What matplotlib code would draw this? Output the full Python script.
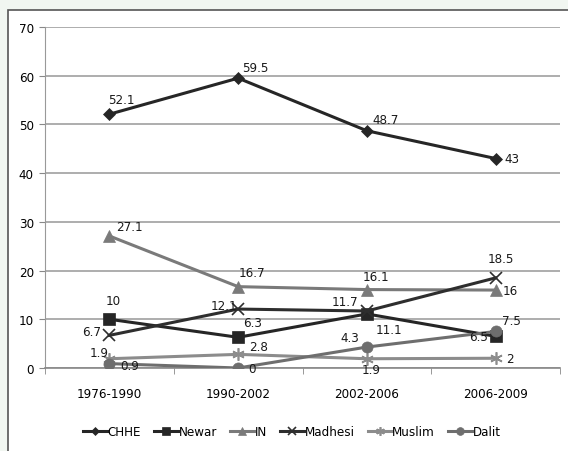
import matplotlib
matplotlib.use("Agg")
import matplotlib.pyplot as plt
from matplotlib.patches import Rectangle
from matplotlib.ticker import MultipleLocator, FixedLocator

plt.rcParams['font.family'] = ['DejaVu Sans']
plt.rcParams['font.stretch'] = 'condensed'

periods = ["1976-1990", "1990-2002", "2002-2006", "2006-2009"]
chhe = [52.1, 59.5, 48.7, 43]
newar = [10, 6.3, 11.1, 6.5]
ind = [27.1, 16.7, 16.1, 16]
madhesi = [6.7, 12.1, 11.7, 18.5]
muslim = [1.9, 2.8, 1.9, 2]
dalit = [0.9, 0, 4.3, 7.5]

names = ["CHHE", "Newar", "IN", "Madhesi", "Muslim", "Dalit"]
series = [chhe, newar, ind, madhesi, muslim, dalit]
colors = ["#262626", "#262626", "#7a7a7a", "#2e2e2e", "#8c8c8c", "#6e6e6e"]
markers = ["D", "s", "^", "x", (6, 2, 0), "o"]
msizes = [6, 8, 8, 9, 9, 8]

offsets = [
    [(12, 15), (17, 11), (19, 11), (16, 0)],
    [(4, 19), (14, 15), (22, -16), (-17, 0)],
    [(20, 9), (14, 14), (9, 13), (15, 0)],
    [(-18, 4), (-14, 4), (-22, 10), (5, 19)],
    [(-10, 6), (20, 8), (4, -11), (14, 0)],
    [(20, -2), (14, -1), (-17, 10), (16, 11)],
]

fig = plt.figure(figsize=(5.68, 4.52), dpi=100)
fig.patch.set_facecolor("#f1f6f1")
fig.patches.append(Rectangle((8 / 568, -0.1), 1.2, 1 - 11 / 452 + 0.1,
                             transform=fig.transFigure, facecolor="white",
                             edgecolor="#555555", linewidth=1.2, zorder=-10))

ax = fig.add_axes([45 / 568, 1 - 369 / 452, (560 - 45) / 568, (369 - 28) / 452])
ax.set_facecolor("none")
x = list(range(len(periods)))
for name, vals, c, m, ms, offs in zip(names, series, colors, markers, msizes, offsets):
    ax.plot(x, vals, color=c, lw=2.2, marker=m, markersize=ms,
            markeredgewidth=1.2 if m in ("x", (6, 2, 0)) else 0.5,
            markeredgecolor=c, label=name, zorder=3)
    for xi, v, (dx, dy) in zip(x, vals, offs):
        ax.annotate(f"{v:g}", (xi, v), xytext=(dx * 0.72, dy * 0.72),
                    textcoords="offset points", ha="center", va="center",
                    fontsize=9.5, color="#1a1a1a", zorder=4)

ax.set_xlim(-0.5, 3.5)
ax.set_ylim(0, 70)
ax.yaxis.set_major_locator(MultipleLocator(10))
ax.set_xticks(x)
ax.set_xticklabels(periods)
ax.xaxis.set_minor_locator(FixedLocator([-0.5, 0.5, 1.5, 2.5, 3.5]))
ax.tick_params(axis="x", which="major", length=0, pad=14, labelsize=9.5)
ax.tick_params(axis="x", which="minor", length=4, color="#888888", direction="out")
ax.tick_params(axis="y", length=4, color="#888888", labelsize=9.5, pad=4)
ax.grid(axis="y", color="#a0a0a0", lw=1.2)
ax.set_axisbelow(True)
for s in ["top", "right"]:
    ax.spines[s].set_visible(False)
ax.spines["left"].set_color("#999999")
ax.spines["bottom"].set_color("#888888")
ax.spines["bottom"].set_linewidth(1.2)

handles, labels = ax.get_legend_handles_labels()
fig.legend(handles, labels, loc="center", bbox_to_anchor=(292 / 568, 1 - 433 / 452),
           ncol=6, frameon=False, fontsize=9.5, handlelength=1.8, handletextpad=0.05,
           columnspacing=1.0, markerscale=0.7)

fig.savefig("out.png", dpi=100, facecolor=fig.get_facecolor())
